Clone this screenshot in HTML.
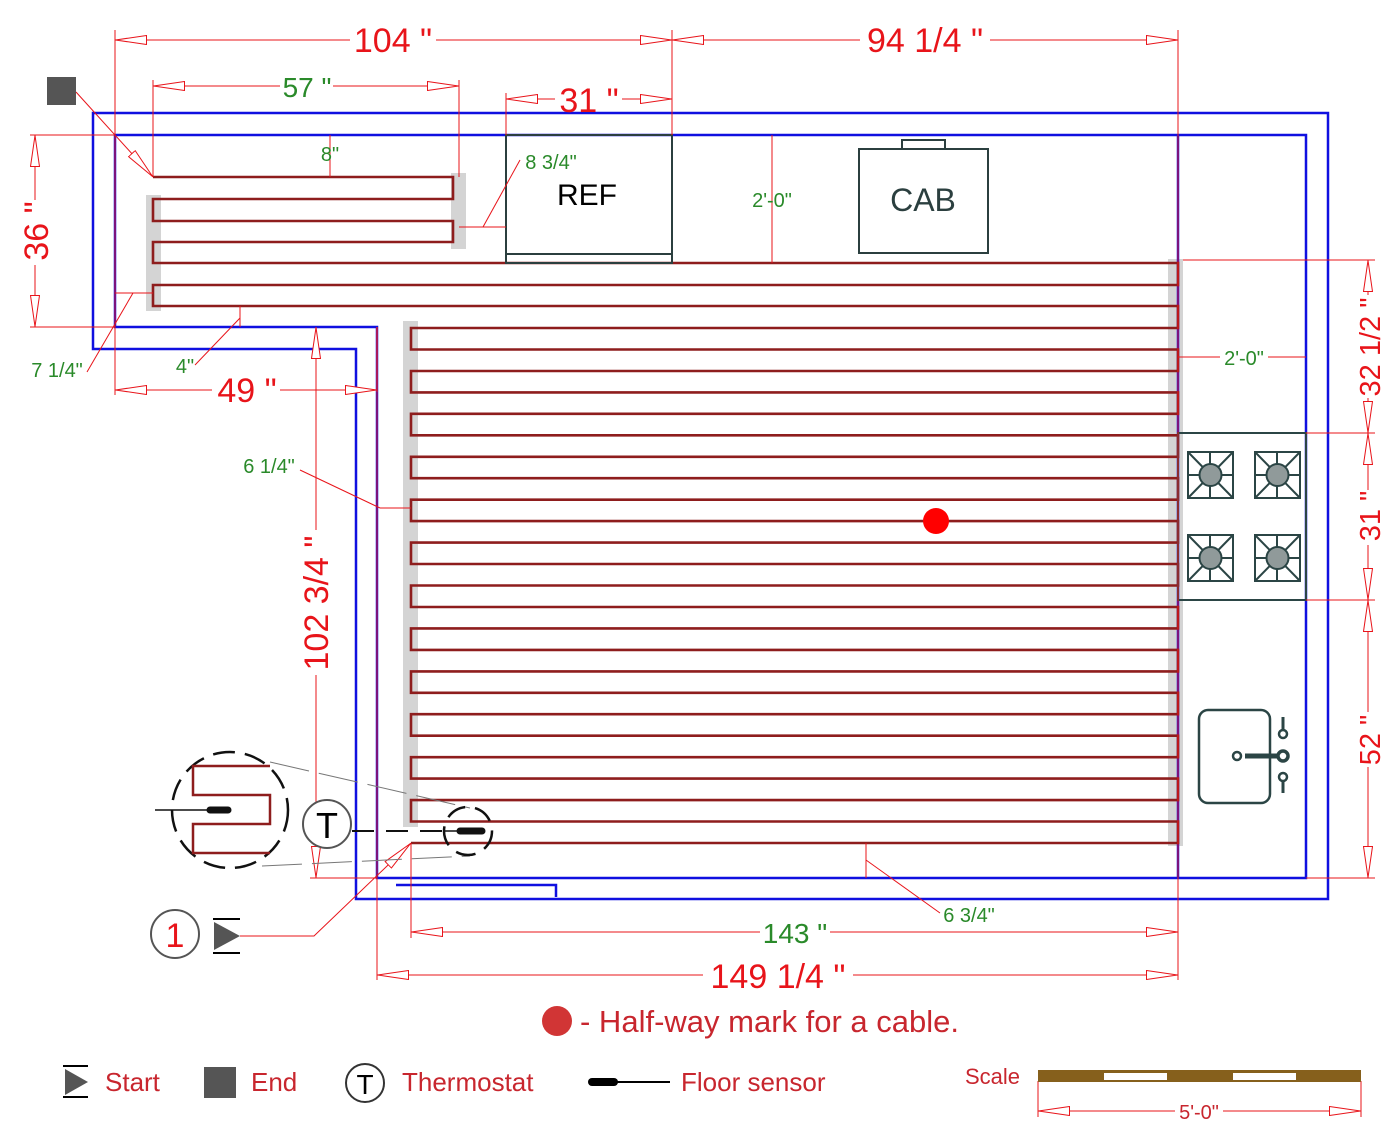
<!DOCTYPE html>
<html><head><meta charset="utf-8"><style>
html,body{margin:0;padding:0;background:#fff;}
svg{display:block;font-family:"Liberation Sans",Arial,sans-serif;}
</style></head><body>
<svg width="1400" height="1145" viewBox="0 0 1400 1145" xmlns="http://www.w3.org/2000/svg">
<defs>
<marker id="a" viewBox="0 0 32 10" refX="32" refY="5" markerWidth="32" markerHeight="10" markerUnits="userSpaceOnUse" orient="auto-start-reverse">
<path d="M0.5,0.5 L31.5,5 L0.5,9.5 Z" fill="#fff" stroke="#e8141a" stroke-width="1"/>
</marker>
</defs>
<rect width="1400" height="1145" fill="#fff"/>

<g fill="#d4d4d4">
<rect x="146" y="195" width="15" height="116"/>
<rect x="451" y="173" width="15" height="76"/>
<rect x="403" y="321" width="15" height="506"/>
<rect x="1168" y="259" width="15" height="587"/>
</g>

<g fill="none" stroke="#1010e0" stroke-width="2.5">
<polygon points="93,113 1328,113 1328,899 356,899 356,349 93,349"/>
<polygon points="115,135 1306,135 1306,878 377,878 377,327 115,327"/>
<line x1="1178" y1="135" x2="1178" y2="878"/>
<polyline points="396,885 556,885 556,897"/>
</g>
<line x1="377" y1="327" x2="377" y2="392" stroke="#6a1aa0" stroke-width="2"/>

<polyline fill="none" stroke="#8e1d1d" stroke-width="2.6" points="411,843 1178,843 1178,821.5 411,821.5 411,800.1 1178,800.1 1178,778.6 411,778.6 411,757.2 1178,757.2 1178,735.7 411,735.7 411,714.2 1178,714.2 1178,692.8 411,692.8 411,671.4 1178,671.4 1178,649.9 411,649.9 411,628.4 1178,628.4 1178,607 411,607 411,585.5 1178,585.5 1178,564 411,564 411,542.6 1178,542.6 1178,521.1 411,521.1 411,499.7 1178,499.7 1178,478.2 411,478.2 411,456.8 1178,456.8 1178,435.3 411,435.3 411,413.8 1178,413.8 1178,392.4 411,392.4 411,371 1178,371 1178,349.5 411,349.5 411,328 1178,328 1178,306 153,306 153,285 1178,285 1178,263 153,263 153,242 453,242 453,221 153,221 153,199 453,199 453,177 153,177"/>

<rect x="506" y="135" width="166" height="128" fill="none" stroke="#2b3f3f" stroke-width="2"/>
<line x1="506" y1="254" x2="672" y2="254" stroke="#2b3f3f" stroke-width="2"/>
<text x="587" y="205" font-size="30" text-anchor="middle" fill="#000">REF</text>
<rect x="902" y="140" width="43" height="9" fill="none" stroke="#2b3f3f" stroke-width="2"/>
<rect x="859" y="149" width="129" height="104" fill="none" stroke="#2b3f3f" stroke-width="2"/>
<text x="923" y="211" font-size="32" text-anchor="middle" fill="#2b3f3f">CAB</text>

<rect x="1178" y="433" width="128" height="167" fill="none" stroke="#2b4545" stroke-width="2"/>
<g fill="none" stroke="#2b4545" stroke-width="2">
<g id="b"><rect x="1188" y="452" width="45" height="46"/><line x1="1188" y1="452" x2="1233" y2="498"/><line x1="1233" y1="452" x2="1188" y2="498"/><line x1="1210" y1="452" x2="1210" y2="498"/><line x1="1188" y1="475" x2="1233" y2="475"/><circle cx="1210.5" cy="475" r="11" fill="#909a9a"/></g>
<use href="#b" x="67"/><use href="#b" y="83"/><use href="#b" x="67" y="83"/>
</g>
<g fill="none" stroke="#2b4545" stroke-width="2.5">
<rect x="1199" y="710" width="71" height="93" rx="9"/>
<circle cx="1237" cy="756" r="4"/>
<line x1="1245" y1="756" x2="1278" y2="756" stroke-width="5"/>
<circle cx="1283" cy="756" r="5" stroke-width="3.5"/>
<line x1="1283" y1="717" x2="1283" y2="730" stroke-width="3"/><circle cx="1283" cy="734" r="4"/>
<line x1="1283" y1="781" x2="1283" y2="793" stroke-width="3"/><circle cx="1283" cy="777" r="4"/>
</g>

<g stroke="#e8141a" stroke-width="1" fill="none">
<line x1="115" y1="30" x2="115" y2="395"/>
<line x1="672" y1="30" x2="672" y2="135"/>
<line x1="1178" y1="30" x2="1178" y2="980"/>
<line x1="153" y1="80" x2="153" y2="177"/>
<line x1="459" y1="80" x2="459" y2="177"/>
<line x1="506" y1="93" x2="506" y2="135"/>
<line x1="30" y1="135" x2="115" y2="135"/>
<line x1="30" y1="327" x2="115" y2="327"/>
<line x1="377" y1="327" x2="377" y2="980"/>
<line x1="310" y1="878" x2="377" y2="878"/>
<line x1="411" y1="843" x2="411" y2="938"/>
<line x1="1183" y1="260" x2="1375" y2="260"/>
<line x1="1306" y1="433" x2="1375" y2="433"/>
<line x1="1306" y1="600" x2="1375" y2="600"/>
<line x1="1306" y1="878" x2="1375" y2="878"/>
<line x1="1038" y1="1081" x2="1038" y2="1117"/>
<line x1="1361" y1="1081" x2="1361" y2="1117"/>
<line x1="115" y1="40" x2="350" y2="40" marker-start="url(#a)"/><line x1="436" y1="40" x2="672" y2="40" marker-end="url(#a)"/>
<line x1="672" y1="40" x2="860" y2="40" marker-start="url(#a)"/><line x1="990" y1="40" x2="1178" y2="40" marker-end="url(#a)"/>
<line x1="153" y1="86" x2="280" y2="86" marker-start="url(#a)"/><line x1="333" y1="86" x2="459" y2="86" marker-end="url(#a)"/>
<line x1="506" y1="99" x2="555" y2="99" marker-start="url(#a)"/><line x1="622" y1="99" x2="672" y2="99" marker-end="url(#a)"/>
<line x1="35" y1="135" x2="35" y2="200" marker-start="url(#a)"/><line x1="35" y1="265" x2="35" y2="327" marker-end="url(#a)"/>
<line x1="115" y1="390" x2="212" y2="390" marker-start="url(#a)"/><line x1="280" y1="390" x2="377" y2="390" marker-end="url(#a)"/>
<line x1="316" y1="327" x2="316" y2="530" marker-start="url(#a)"/><line x1="316" y1="675" x2="316" y2="878" marker-end="url(#a)"/>
<line x1="411" y1="932" x2="760" y2="932" marker-start="url(#a)"/><line x1="830" y1="932" x2="1178" y2="932" marker-end="url(#a)"/>
<line x1="377" y1="975" x2="703" y2="975" marker-start="url(#a)"/><line x1="853" y1="975" x2="1178" y2="975" marker-end="url(#a)"/>
<line x1="1368" y1="260" x2="1368" y2="295" marker-start="url(#a)"/><line x1="1368" y1="398" x2="1368" y2="433" marker-end="url(#a)"/>
<line x1="1368" y1="433" x2="1368" y2="490" marker-start="url(#a)"/><line x1="1368" y1="545" x2="1368" y2="600" marker-end="url(#a)"/>
<line x1="1368" y1="600" x2="1368" y2="712" marker-start="url(#a)"/><line x1="1368" y1="767" x2="1368" y2="878" marker-end="url(#a)"/>
<line x1="1038" y1="1111" x2="1175" y2="1111" marker-start="url(#a)"/><line x1="1223" y1="1111" x2="1361" y2="1111" marker-end="url(#a)"/>
<line x1="772" y1="135" x2="772" y2="263"/>
<line x1="1178" y1="357" x2="1220" y2="357"/><line x1="1268" y1="357" x2="1306" y2="357"/>
<line x1="330" y1="135" x2="330" y2="177"/>
<line x1="459" y1="227" x2="506" y2="227"/><line x1="483" y1="227" x2="520" y2="160"/>
<line x1="115" y1="293" x2="153" y2="293"/><line x1="133" y1="293" x2="87" y2="372"/>
<line x1="240" y1="306" x2="240" y2="327"/><line x1="240" y1="318" x2="195" y2="365"/>
<line x1="300" y1="470" x2="380" y2="508"/><line x1="380" y1="508" x2="411" y2="508"/>
<line x1="866" y1="843" x2="866" y2="878"/><line x1="866" y1="860" x2="940" y2="913"/>
<line x1="76" y1="92" x2="153" y2="177" marker-end="url(#a)"/>
<polyline points="240,936 314,936 411,843" marker-end="url(#a)"/>
</g>

<g fill="#e8141a" font-size="34" text-anchor="middle">
<text x="393" y="52">104 "</text>
<text x="925" y="52">94 1/4 "</text>
<text x="589" y="112">31 "</text>
<text x="247" y="402">49 "</text>
<text x="778" y="988">149 1/4 "</text>
<text transform="translate(48,231) rotate(-90)">36 "</text>
<text transform="translate(328,603) rotate(-90)">102 3/4 "</text>
<text transform="translate(1380,347) rotate(-90)" font-size="29">32 1/2 "</text>
<text transform="translate(1380,516) rotate(-90)" font-size="29">31 "</text>
<text transform="translate(1380,740) rotate(-90)" font-size="29">52 "</text>
</g>
<g fill="#2a8a2a" text-anchor="middle">
<text x="307" y="97" font-size="28">57 "</text>
<text x="795" y="943" font-size="28">143 "</text>
<text x="330" y="161" font-size="20">8"</text>
<text x="772" y="207" font-size="20">2'-0"</text>
<text x="1244" y="365" font-size="20">2'-0"</text>
<text x="551" y="169" font-size="20">8 3/4"</text>
<text x="57" y="377" font-size="20">7 1/4"</text>
<text x="185" y="373" font-size="20">4"</text>
<text x="269" y="473" font-size="20">6 1/4"</text>
<text x="969" y="922" font-size="20">6 3/4"</text>
</g>

<rect x="47" y="77" width="29" height="28" fill="#555"/>

<circle cx="175" cy="934" r="24" fill="#fff" stroke="#555" stroke-width="2"/>
<text x="175" y="947" font-size="34" fill="#e8141a" text-anchor="middle">1</text>
<line x1="213" y1="919" x2="240" y2="919" stroke="#000" stroke-width="2"/>
<line x1="213" y1="953" x2="240" y2="953" stroke="#000" stroke-width="2"/>
<polygon points="214,922 240,936 214,950" fill="#555"/>

<g fill="none" stroke="#777" stroke-width="1" stroke-dasharray="40,10">
<line x1="270" y1="762" x2="470" y2="808"/>
<line x1="262" y1="866" x2="470" y2="856"/>
</g>
<circle cx="230" cy="810" r="58" fill="#fff" stroke="#111" stroke-width="2.5" stroke-dasharray="22,10"/>
<polyline points="270,766 193,766 193,795 270,795 270,824 193,824 193,853 270,853" fill="none" stroke="#8e1d1d" stroke-width="2.5"/>
<line x1="155" y1="810" x2="210" y2="810" stroke="#111" stroke-width="1.5"/>
<line x1="210" y1="810" x2="228" y2="810" stroke="#111" stroke-width="7" stroke-linecap="round"/>
<line x1="352" y1="831" x2="445" y2="831" stroke="#111" stroke-width="2" stroke-dasharray="22,12"/>
<circle cx="468" cy="831" r="24" fill="none" stroke="#111" stroke-width="2.5" stroke-dasharray="20,10"/>
<line x1="445" y1="831" x2="460" y2="831" stroke="#111" stroke-width="1.5"/>
<line x1="460" y1="831" x2="482" y2="831" stroke="#111" stroke-width="7" stroke-linecap="round"/>
<circle cx="327" cy="824" r="24" fill="#fff" stroke="#555" stroke-width="2"/>
<text x="327" y="838" font-size="36" text-anchor="middle" fill="#000">T</text>

<circle cx="936" cy="521" r="13" fill="#f00"/>
<circle cx="557" cy="1021" r="15" fill="#d13535"/>
<text x="580" y="1032" font-size="31" fill="#c8262e">- Half-way mark for a cable.</text>

<line x1="63" y1="1066" x2="88" y2="1066" stroke="#000" stroke-width="2"/>
<line x1="63" y1="1097" x2="88" y2="1097" stroke="#000" stroke-width="2"/>
<polygon points="65,1069 88,1082 65,1095" fill="#555"/>
<text x="105" y="1091" font-size="26" fill="#c8262e">Start</text>
<rect x="204" y="1067" width="32" height="31" fill="#555"/>
<text x="251" y="1091" font-size="26" fill="#c8262e">End</text>
<circle cx="365" cy="1083" r="19" fill="#fff" stroke="#333" stroke-width="2"/>
<text x="365" y="1094" font-size="28" text-anchor="middle" fill="#000">T</text>
<text x="402" y="1091" font-size="26" fill="#c8262e">Thermostat</text>
<line x1="592" y1="1082" x2="614" y2="1082" stroke="#000" stroke-width="8" stroke-linecap="round"/>
<line x1="614" y1="1082" x2="670" y2="1082" stroke="#000" stroke-width="2"/>
<text x="681" y="1091" font-size="26" fill="#c8262e">Floor sensor</text>
<text x="965" y="1084" font-size="22" fill="#c8262e">Scale</text>
<rect x="1038" y="1070" width="323" height="12" fill="#86601c"/>
<rect x="1104" y="1073" width="63" height="7" fill="#fff"/>
<rect x="1233" y="1073" width="63" height="7" fill="#fff"/>
<text x="1199" y="1119" font-size="20" fill="#c8262e" text-anchor="middle">5'-0"</text>
</svg>
</body></html>
